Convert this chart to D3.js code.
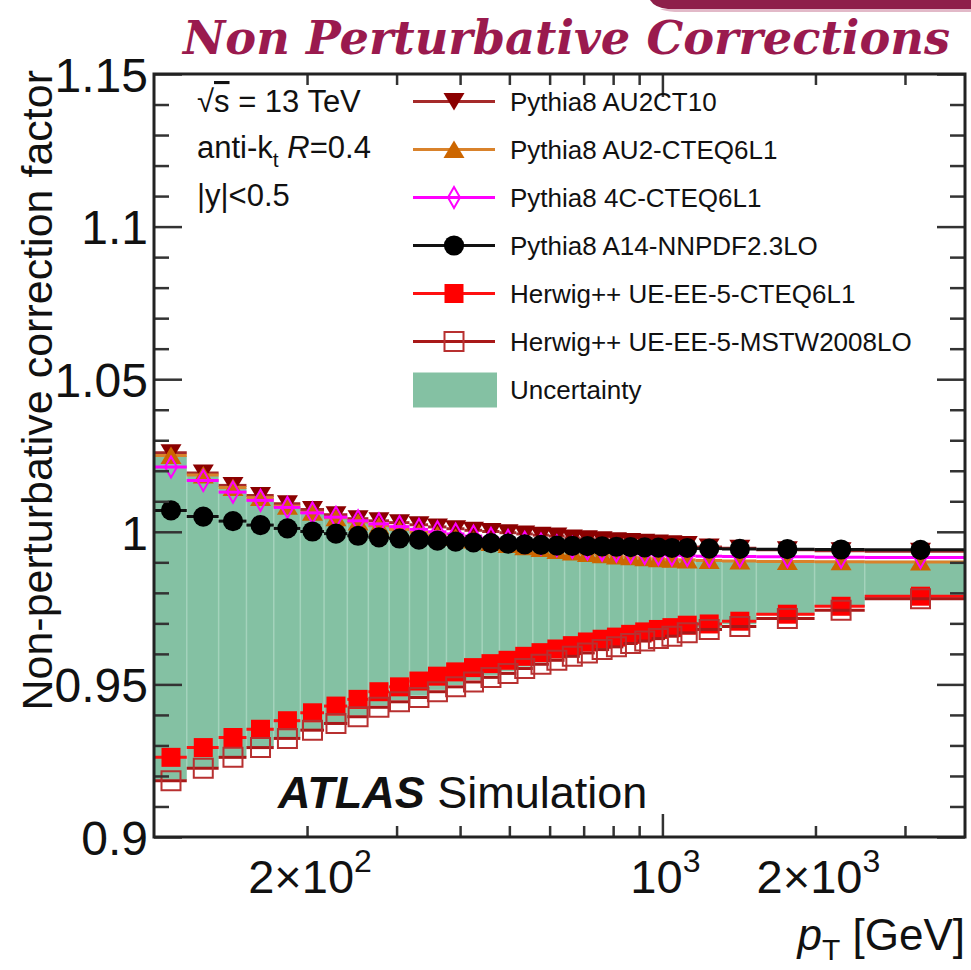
<!DOCTYPE html>
<html>
<head>
<meta charset="utf-8">
<script src="https://cdn.jsdelivr.net/npm/d3@7"></script>
<style>
    html, body { margin: 0; padding: 0; background: #fff; }
    svg { display: block; }
    text { font-family: "Liberation Sans", Arial, Helvetica, sans-serif; fill: #111; }
</style>
</head>
<body>
<svg id="chart" width="971" height="970"></svg>
<script>

// pT bin edges [GeV], |y|<0.5
const ptEdges = [ 100, 116, 134, 152, 172, 194, 216, 240, 264, 290, 318, 346, 376, 408, 442, 478,
    516, 556, 598, 642, 688, 736, 786, 838, 894, 952, 1012, 1076, 1162, 1310, 1530, 1992, 2500, 3937 ]

const au2ct10 = [ 1.0259, 1.0193, 1.0152, 1.0119, 1.0092, 1.0073, 1.0056, 1.0043, 1.0036, 1.0030,
    1.0023, 1.0016, 1.0010, 1.0005, 1.0001, 0.9997, 0.9993, 0.9989, 0.9986, 0.9980, 0.9977, 0.9974,
    0.9971, 0.9968, 0.9966, 0.9963, 0.9961, 0.9958, 0.9950, 0.9946, 0.9941, 0.9938, 0.9936 ]

const au2cteq = [ 1.0250, 1.0186, 1.0145, 1.0112, 1.0084, 1.0064, 1.0046, 1.0032, 1.0020, 1.0008,
    0.9998, 0.9990, 0.9981, 0.9973, 0.9965, 0.9958, 0.9951, 0.9945, 0.9939, 0.9934, 0.9929, 0.9925,
    0.9921, 0.9918, 0.9915, 0.9912, 0.9910, 0.9908, 0.9906, 0.9904, 0.9903, 0.9902, 0.9901 ]

const tune4c = [ 1.0212, 1.0168, 1.0130, 1.0103, 1.0080, 1.0062, 1.0048, 1.0036, 1.0026, 1.0017,
    1.0008, 1.0000, 0.9993, 0.9986, 0.9979, 0.9972, 0.9966, 0.9960, 0.9954, 0.9949, 0.9944, 0.9940,
    0.9936, 0.9932, 0.9929, 0.9926, 0.9924, 0.9922, 0.9920, 0.9919, 0.9918, 0.9917, 0.9916 ]

const a14 = [ 1.0070, 1.0050, 1.0035, 1.0022, 1.0011, 1.0001, 0.9994, 0.9987, 0.9982, 0.9978,
    0.9974, 0.9971, 0.9968, 0.9965, 0.9963, 0.9961, 0.9959, 0.9957, 0.9955, 0.9954, 0.9953, 0.9952,
    0.9951, 0.9950, 0.9949, 0.9948, 0.9947, 0.9947, 0.9945, 0.9944, 0.9943, 0.9942, 0.9941 ]

const herwigCteq = [ 0.9261, 0.9293, 0.9326, 0.9353, 0.9381, 0.9407, 0.9429, 0.9451, 0.9476, 0.9492,
    0.9511, 0.9527, 0.9541, 0.9555, 0.9568, 0.9579, 0.9592, 0.9604, 0.9616, 0.9627, 0.9639, 0.9648,
    0.9655, 0.9664, 0.9672, 0.9680, 0.9686, 0.9694, 0.9698, 0.9707, 0.9730, 0.9756, 0.9789 ]

const herwigMstw = [ 0.9184, 0.9225, 0.9261, 0.9293, 0.9323, 0.9350, 0.9372, 0.9394, 0.9425, 0.9443,
    0.9457, 0.9476, 0.9492, 0.9508, 0.9523, 0.9536, 0.9552, 0.9566, 0.9579, 0.9592, 0.9603, 0.9614,
    0.9623, 0.9634, 0.9642, 0.9650, 0.9658, 0.9669, 0.9680, 0.9690, 0.9716, 0.9743, 0.9781 ]

// uncertainty band edges
const bandHigh = [ 1.0249, 1.0185, 1.0144, 1.0111, 1.0083, 1.0063, 1.0046, 1.0032, 1.0020, 1.0008,
    0.9998, 0.9990, 0.9981, 0.9973, 0.9965, 0.9958, 0.9951, 0.9945, 0.9939, 0.9934, 0.9929, 0.9925,
    0.9921, 0.9918, 0.9915, 0.9912, 0.9910, 0.9908, 0.9906, 0.9905, 0.9905, 0.9905, 0.9905 ]

const bandLow = [ 0.9188, 0.9228, 0.9264, 0.9296, 0.9326, 0.9353, 0.9376, 0.9398, 0.9430, 0.9448,
    0.9463, 0.9482, 0.9498, 0.9514, 0.9529, 0.9543, 0.9558, 0.9572, 0.9585, 0.9598, 0.9610, 0.9620,
    0.9630, 0.9640, 0.9648, 0.9657, 0.9665, 0.9675, 0.9686, 0.9697, 0.9727, 0.9754, 0.9789 ]

const legendLabels = [ 'Pythia8 AU2CT10', 'Pythia8 AU2-CTEQ6L1', 'Pythia8 4C-CTEQ6L1',
    'Pythia8 A14-NNPDF2.3LO', 'Herwig++ UE-EE-5-CTEQ6L1', 'Herwig++ UE-EE-5-MSTW2008LO' ]
const bandLabel = 'Uncertainty'

const yMajorTicks = [ 0.9, 0.95, 1, 1.05, 1.1, 1.15 ]
const xMinorTicks = [ 200, 300, 400, 500, 600, 700, 800, 900, 2000, 3000 ]
const xMajorTicks = [ 1000 ]
const xTickLabels = [ { v: 200, base: '2\u00d710', exp: '2' }, { v: 1000, base: '10', exp: '3' }, { v: 2000, base: '2\u00d710', exp: '3' } ]

const svg = d3.select('#chart')

const pLeft = 154, pRight = 965, pTop = 74, pBottom = 837

const x = d3.scaleLog().domain([ 100, 3937 ]).range([ pLeft, pRight ])
const y = d3.scaleLinear().domain([ 0.9, 1.15 ]).range([ pBottom, pTop ])

const bins = d3.range(ptEdges.length - 1).map(i => ({
    lo: ptEdges[i], hi: ptEdges[i + 1], mid: (ptEdges[i] + ptEdges[i + 1]) / 2
}))

const styles = [
    { values: au2ct10, shape: 'tridown', fill: '#8b0000', stroke: 'none', line: '#a52a2a' },
    { values: au2cteq, shape: 'triup', fill: '#cc6600', stroke: 'none', line: '#d9822b' },
    { values: tune4c, shape: 'diamond', fill: 'none', stroke: '#ff00ff', line: '#ff00ff' },
    { values: a14, shape: 'circle', fill: '#000', stroke: 'none', line: '#111' },
    { values: herwigCteq, shape: 'square', fill: '#ff0000', stroke: 'none', line: '#ff1010' },
    { values: herwigMstw, shape: 'square', fill: 'none', stroke: '#b83030', line: '#a81818' }
]

function markerPath (shape) {
    if (shape === 'circle') return d3.symbol(d3.symbolCircle, 320)()
    if (shape === 'square') return d3.symbol(d3.symbolSquare, 361)()
    if (shape === 'triup') return 'M0,-9L10.5,8.5L-10.5,8.5Z'
    if (shape === 'tridown') return 'M0,9L10.5,-8.5L-10.5,-8.5Z'
    return 'M0,-10.5L6,0L0,10.5L-6,0Z'
}

// slide decoration + title
svg.append('path')
    .attr('d', 'M650,0 L971,0 L971,9 L668,9 Q655,8 650,0 Z')
    .attr('fill', '#8e1f4a')
svg.append('path')
    .attr('d', 'M660,9 L971,9 L971,12 L675,12 Q664,11 660,9 Z')
    .attr('fill', '#e2b9c8')

svg.append('text')
    .attr('x', 183)
    .attr('y', 54)
    .attr('textLength', 767)
    .attr('lengthAdjust', 'spacingAndGlyphs')
    .style('font-family', '"DejaVu Serif", "Liberation Serif", serif')
    .style('font-style', 'italic')
    .style('font-weight', 'bold')
    .style('font-size', '47px')
    .style('fill', '#9a1a4e')
    .text('Non Perturbative Corrections')

// uncertainty band
const plot = svg.append('g')

plot.selectAll('rect.band')
    .data(bins)
    .enter()
    .append('rect')
    .attr('class', 'band')
    .attr('x', d => x(d.lo))
    .attr('width', d => x(d.hi) - x(d.lo))
    .attr('y', (d, i) => y(bandHigh[i]))
    .attr('height', (d, i) => y(bandLow[i]) - y(bandHigh[i]))
    .attr('fill', '#84c1a3')

plot.selectAll('line.sep')
    .data(bins.slice(1))
    .enter()
    .append('line')
    .attr('class', 'sep')
    .attr('x1', d => x(d.lo))
    .attr('x2', d => x(d.lo))
    .attr('y1', (d, i) => y(Math.min(bandHigh[i], bandHigh[i + 1])))
    .attr('y2', (d, i) => y(Math.max(bandLow[i], bandLow[i + 1])))
    .attr('stroke', '#a4d3bc')
    .attr('stroke-width', 1.5)

// series: horizontal bin bars + markers
for (const s of styles) {

    const g = plot.append('g')

    g.selectAll('line')
        .data(bins)
        .enter()
        .append('line')
        .attr('x1', d => x(d.lo))
        .attr('x2', d => x(d.hi))
        .attr('y1', (d, i) => y(s.values[i]))
        .attr('y2', (d, i) => y(s.values[i]))
        .attr('stroke', s.line)
        .attr('stroke-width', 3)

    g.selectAll('path')
        .data(bins)
        .enter()
        .append('path')
        .attr('d', markerPath(s.shape))
        .attr('transform', (d, i) => `translate(${x(d.mid)},${y(s.values[i])})`)
        .attr('fill', s.fill)
        .attr('stroke', s.stroke)
        .attr('stroke-width', 2)

}

// axes
const axisStyle = g => {
    g.select('.domain').remove()
    g.selectAll('.tick line').attr('stroke', '#333').attr('stroke-width', 2.5)
}

const yMinorTicks = d3.range(0.91, 1.15, 0.01).filter(v => Math.abs(v * 20 - Math.round(v * 20)) > 1e-6)

svg.append('g').attr('transform', `translate(${pLeft},0)`)
    .call(d3.axisLeft(y).tickValues(yMinorTicks).tickSize(-15).tickFormat(''))
    .call(axisStyle)
svg.append('g').attr('transform', `translate(${pRight},0)`)
    .call(d3.axisRight(y).tickValues(yMinorTicks).tickSize(-15).tickFormat(''))
    .call(axisStyle)
svg.append('g').attr('transform', `translate(${pRight},0)`)
    .call(d3.axisRight(y).tickValues(yMajorTicks).tickSize(-28).tickFormat(''))
    .call(axisStyle)

const yAxis = svg.append('g').attr('transform', `translate(${pLeft},0)`)
    .call(d3.axisLeft(y).tickValues(yMajorTicks).tickSize(-28).tickPadding(6).tickFormat(d3.format('')))
    .call(axisStyle)
yAxis.selectAll('.tick text')
    .style('font-size', '48px')
    .style('fill', '#111')
    .attr('dy', '0.36em')

svg.append('g').attr('transform', `translate(0,${pBottom})`)
    .call(d3.axisBottom(x).tickValues(xMinorTicks).tickSize(-11).tickFormat(''))
    .call(axisStyle)
svg.append('g').attr('transform', `translate(0,${pBottom})`)
    .call(d3.axisBottom(x).tickValues(xMajorTicks).tickSize(-23).tickFormat(''))
    .call(axisStyle)
svg.append('g').attr('transform', `translate(0,${pTop})`)
    .call(d3.axisTop(x).tickValues(xMinorTicks).tickSize(-11).tickFormat(''))
    .call(axisStyle)
svg.append('g').attr('transform', `translate(0,${pTop})`)
    .call(d3.axisTop(x).tickValues(xMajorTicks).tickSize(-23).tickFormat(''))
    .call(axisStyle)

const xLabels = svg.selectAll('text.xlab')
    .data(xTickLabels)
    .enter()
    .append('text')
    .attr('class', 'xlab')
    .attr('x', d => x(d.v) + 3)
    .attr('y', 893)
    .attr('text-anchor', 'middle')
    .style('font-size', '47px')
xLabels.append('tspan').text(d => d.base)
xLabels.append('tspan').attr('dy', -21).style('font-size', '32px').text(d => d.exp)

// frame
svg.append('rect')
    .attr('x', pLeft)
    .attr('y', pTop)
    .attr('width', pRight - pLeft)
    .attr('height', pBottom - pTop)
    .attr('fill', 'none')
    .attr('stroke', '#222')
    .attr('stroke-width', 3)

// axis titles
const xTitle = svg.append('text')
    .attr('x', pRight)
    .attr('y', 950)
    .attr('text-anchor', 'end')
    .style('font-size', '44px')
xTitle.append('tspan').style('font-style', 'italic').text('p')
xTitle.append('tspan').attr('dy', 10).style('font-size', '30px').text('T')
xTitle.append('tspan').attr('dy', -10).text(' [GeV]')

svg.append('text')
    .attr('transform', 'translate(52,70) rotate(-90)')
    .attr('text-anchor', 'end')
    .style('font-size', '43px')
    .text('Non-perturbative correction factor')

// top-left labels
const info = svg.append('g').style('font-size', '31px')
const l1 = info.append('text').attr('x', 197).attr('y', 112)
l1.append('tspan').text('\u221a')
l1.append('tspan').style('text-decoration', 'overline').text('s')
l1.append('tspan').text(' = 13 TeV')
const l2 = info.append('text').attr('x', 197).attr('y', 158)
l2.append('tspan').text('anti-k')
l2.append('tspan').attr('dy', 9).style('font-size', '21px').text('t')
l2.append('tspan').attr('dy', -9).text(' ')
l2.append('tspan').style('font-style', 'italic').text('R')
l2.append('tspan').text('=0.4')
info.append('text').attr('x', 197).attr('y', 206).text('|y|<0.5')

// legend
const legendY = i => 101.5 + 48 * i
const legend = svg.append('g')

styles.forEach((s, i) => {
    legend.append('line')
        .attr('x1', 413).attr('x2', 495)
        .attr('y1', legendY(i)).attr('y2', legendY(i))
        .attr('stroke', s.line)
        .attr('stroke-width', 3)
    legend.append('path')
        .attr('d', markerPath(s.shape))
        .attr('transform', `translate(454,${legendY(i)})`)
        .attr('fill', s.fill)
        .attr('stroke', s.stroke)
        .attr('stroke-width', 2)
    legend.append('text')
        .attr('x', 510)
        .attr('y', legendY(i) + 9.5)
        .style('font-size', '26px')
        .text(legendLabels[i])
})

legend.append('rect')
    .attr('x', 413).attr('y', legendY(6) - 17)
    .attr('width', 84).attr('height', 35)
    .attr('fill', '#84c1a3')
legend.append('text')
    .attr('x', 510)
    .attr('y', legendY(6) + 9.5)
    .style('font-size', '26px')
    .text(bandLabel)

// ATLAS label
const atlas = svg.append('text').attr('x', 278).attr('y', 808).style('font-size', '45px')
atlas.append('tspan').style('font-weight', 'bold').style('font-style', 'italic').text('ATLAS')
atlas.append('tspan').text(' Simulation')

</script>
</body>
</html>
